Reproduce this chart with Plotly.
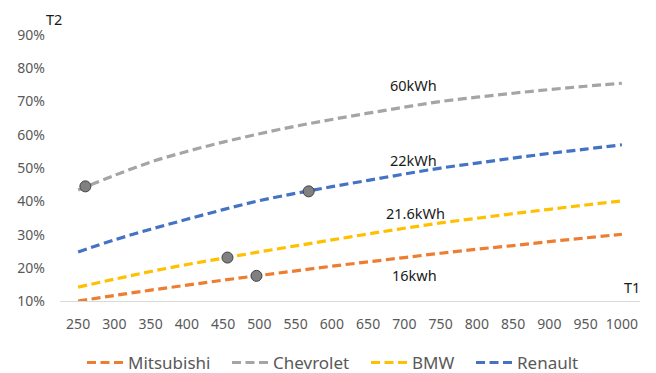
import plotly.graph_objects as go

# T1 values along the horizontal axis
t1 = [250, 300, 350, 400, 450, 500, 550, 600, 650, 700, 750, 800, 850, 900, 950, 1000]

# T2 curves per vehicle (fractions)
mitsubishi = [0.100, 0.117, 0.133, 0.148, 0.163, 0.177, 0.191, 0.205, 0.218, 0.231, 0.244, 0.256, 0.267, 0.279, 0.290, 0.301]
chevrolet = [0.434, 0.478, 0.518, 0.550, 0.578, 0.603, 0.626, 0.646, 0.665, 0.683, 0.700, 0.713, 0.725, 0.736, 0.746, 0.755]
bmw = [0.142, 0.166, 0.189, 0.210, 0.229, 0.248, 0.266, 0.284, 0.302, 0.319, 0.335, 0.349, 0.363, 0.376, 0.389, 0.401]
renault = [0.248, 0.284, 0.316, 0.346, 0.375, 0.402, 0.424, 0.444, 0.463, 0.482, 0.500, 0.515, 0.530, 0.544, 0.557, 0.570]

# Operating points marked on each curve
point_t1 = [260, 568, 456, 496]
point_t2 = [0.445, 0.430, 0.231, 0.176]

# Battery capacity labels
cap_labels = ["60kWh", "22kWh", "21.6kWh", "16kwh"]
cap_t1 = [712, 712, 715, 714]
cap_t2 = [0.749, 0.525, 0.365, 0.180]

series = [
    ("Mitsubishi", mitsubishi, "#ED7D31"),
    ("Chevrolet", chevrolet, "#A5A5A5"),
    ("BMW", bmw, "#FFC000"),
    ("Renault", renault, "#4472C4"),
]
# left edge (px) of each legend entry along the bottom row
legend_left_px = [82, 227, 366, 471]

FONT = "Noto Sans"
W, H = 656, 373
fig = go.Figure()
legend_ids = ["legend", "legend2", "legend3", "legend4"]
for (name, vals, color), lid in zip(series, legend_ids):
    fig.add_trace(go.Scatter(
        x=t1, y=vals, name=name, mode="lines", legend=lid,
        line=dict(color=color, width=3.2, dash="9px,4.5px", shape="spline"),
    ))

fig.add_trace(go.Scatter(
    x=point_t1, y=point_t2, mode="markers", showlegend=False,
    marker=dict(size=11, color="#808080", line=dict(color="#404040", width=1)),
))

annotations = [
    dict(x=x, y=y, text=t, showarrow=False, xref="x", yref="y",
         xanchor="center", yanchor="middle",
         font=dict(family=FONT, size=14.5, color="#1a1a1a"))
    for t, x, y in zip(cap_labels, cap_t1, cap_t2)
]
annotations.append(dict(x=-0.01, y=1.059, xref="paper", yref="paper", text="T2",
                        xanchor="center", yanchor="middle", showarrow=False,
                        font=dict(family=FONT, size=14.5, color="#1a1a1a")))
annotations.append(dict(x=0.986, y=0.052, xref="paper", yref="paper", text="T1",
                        xanchor="center", yanchor="middle", showarrow=False,
                        font=dict(family=FONT, size=14.5, color="#1a1a1a")))

legend_style = dict(orientation="h", xref="container", xanchor="left",
                    yref="container", y=0.027, yanchor="middle",
                    font=dict(family=FONT, size=17, color="#595959"),
                    itemwidth=36, bgcolor="rgba(0,0,0,0)")
layout_legends = {}
for lid, px in zip(legend_ids, legend_left_px):
    layout_legends[lid] = dict(legend_style, x=px / W)

fig.update_layout(
    width=W, height=H,
    margin=dict(l=60, r=16, t=35, b=67),
    paper_bgcolor="white", plot_bgcolor="white",
    font=dict(family=FONT, color="#595959", size=14),
    showlegend=True,
    annotations=annotations,
    **layout_legends,
)
fig.update_xaxes(
    range=[225, 1025], tickvals=t1, ticktext=[str(v) for v in t1],
    showgrid=False, zeroline=False, showline=True, linecolor="#D9D9D9", linewidth=1,
    ticks="", ticklabelstandoff=10,
    tickfont=dict(family=FONT, size=14, color="#595959"),
)
fig.update_yaxes(
    range=[0.1, 0.9], dtick=0.1, tick0=0.1, tickformat=".0%",
    showgrid=False, zeroline=False, showline=False, ticks="", ticklabelstandoff=14,
    tickfont=dict(family=FONT, size=14, color="#595959"),
)

fig.write_html("out.html")
